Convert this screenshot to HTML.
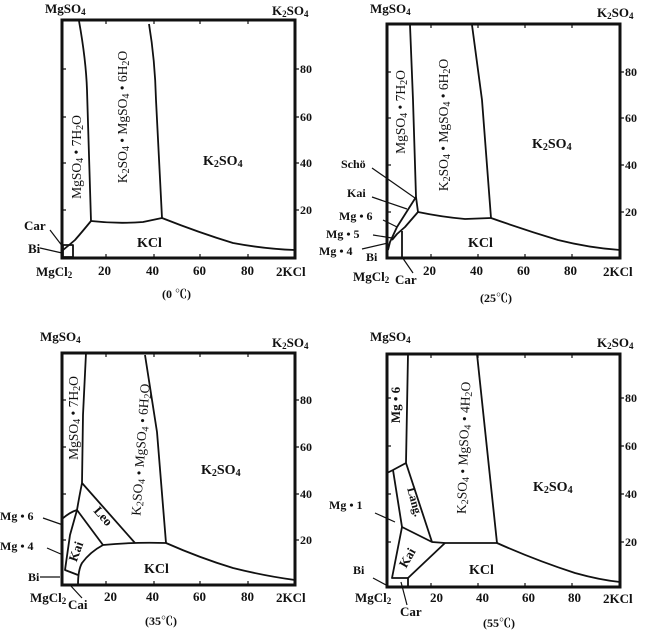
<!DOCTYPE html>
<html><head><meta charset="utf-8"><style>
html,body{margin:0;padding:0;background:#fff;}
svg{display:block;}
text{font-family:"Liberation Serif","Noto Serif CJK SC",serif;fill:#111;font-weight:bold;}
.f{fill:none;stroke:#111;stroke-width:3;}
.l{fill:none;stroke:#111;stroke-width:1.8;stroke-linejoin:round;}
.t{fill:none;stroke:#111;stroke-width:1.2;}
.r{font-size:13.5px;font-weight:normal;}
</style></head><body>
<svg width="650" height="631" viewBox="0 0 650 631" xmlns="http://www.w3.org/2000/svg">
<!-- Panel 1 -->
<rect class="f" x="62" y="20" width="233" height="238"/>
<path class="t" d="M62,210h4M62,163h4M62,117h4M62,69h4M106,20v4M154,20v4M200,20v4M248,20v4M106,258v-4M154,258v-4M200,258v-4M248,258v-4M295,210h4M295,163h4M295,117h4M295,69h4"/>
<path class="l" d="M79,21 Q86,60 87,90 L91,221"/>
<path class="l" d="M91,221 Q82,232 75,240 Q68,246 63,250"/>
<path class="l" d="M149,24 Q155,60 156,100 L162,218"/>
<path class="l" d="M91,221 Q117,224 143,222 L162,218"/>
<path class="l" d="M162,218 Q200,233 233,243 Q265,249 295,250"/>
<rect class="l" x="63" y="245" width="10" height="12"/>
<path class="t" d="M50,230L63,247M40,248L62,253"/>
<text x="45" y="13" font-size="13">MgSO<tspan font-size="9" dy="2">4</tspan></text>
<text x="272" y="15" font-size="13">K<tspan font-size="9" dy="2">2</tspan><tspan dy="-2">SO</tspan><tspan font-size="9" dy="2">4</tspan></text>
<g font-size="12"><text x="300" y="73">80</text><text x="300" y="121">60</text><text x="300" y="167">40</text><text x="300" y="214">20</text></g>
<g font-size="13"><text x="36" y="276">MgCl<tspan font-size="9" dy="2">2</tspan></text><text x="98" y="275">20</text><text x="146" y="275">40</text><text x="193" y="275">60</text><text x="241" y="275">80</text><text x="276" y="276">2KCl</text></g>
<text x="162" y="298" font-size="12" font-weight="normal">(0 ℃)</text>
<text x="24" y="230" font-size="13">Car</text><text x="28" y="253" font-size="13">Bi</text>
<text x="137" y="247" font-size="14" font-weight="normal">KCl</text>
<text x="203" y="165" font-size="14">K<tspan font-size="10" dy="2">2</tspan><tspan dy="-2">SO</tspan><tspan font-size="10" dy="2">4</tspan></text>
<text class="r" transform="translate(81,157) rotate(-90)" text-anchor="middle">MgSO<tspan font-size="10" dy="2">4</tspan><tspan dy="-2"> • 7H</tspan><tspan font-size="10" dy="2">2</tspan><tspan dy="-2">O</tspan></text>
<text class="r" transform="translate(127,117) rotate(-90)" text-anchor="middle">K<tspan font-size="10" dy="2">2</tspan><tspan dy="-2">SO</tspan><tspan font-size="10" dy="2">4</tspan><tspan dy="-2"> • MgSO</tspan><tspan font-size="10" dy="2">4</tspan><tspan dy="-2"> • 6H</tspan><tspan font-size="10" dy="2">2</tspan><tspan dy="-2">O</tspan></text>

<!-- Panel 2 -->
<rect class="f" x="387" y="24" width="233" height="234"/>
<path class="t" d="M387,212h4M387,165h4M387,118h4M387,72h4M431,24v4M478,24v4M525,24v4M572,24v4M431,258v-4M478,258v-4M525,258v-4M572,258v-4M620,212h4M620,165h4M620,118h4M620,72h4"/>
<path class="l" d="M410,25 L413,100 L416,197 L418,212"/>
<path class="l" d="M472,25 L482,100 L491,218"/>
<path class="l" d="M418,212 Q442,217 465,219 L491,218"/>
<path class="l" d="M491,218 Q525,230 558,240 Q590,248 620,250"/>
<path class="l" d="M416,197 L397,227 L390,242 L388,250"/>
<path class="l" d="M418,212 L405,227 L397,234 L392,240"/>
<path class="l" d="M402,231 V258"/>
<path class="t" d="M372,168L415,198M372,197L407,209M383,220L397,227M373,235L392,238M362,249L388,243M402,257L413,273"/>
<text x="370" y="13" font-size="13">MgSO<tspan font-size="9" dy="2">4</tspan></text>
<text x="597" y="17" font-size="13">K<tspan font-size="9" dy="2">2</tspan><tspan dy="-2">SO</tspan><tspan font-size="9" dy="2">4</tspan></text>
<g font-size="12"><text x="625" y="76">80</text><text x="625" y="122">60</text><text x="625" y="169">40</text><text x="625" y="216">20</text></g>
<g font-size="13" font-weight="normal"><text x="353" y="281">MgCl<tspan font-size="9" dy="2">2</tspan></text><text x="395" y="284">Car</text><text x="423" y="275">20</text><text x="470" y="275">40</text><text x="517" y="275">60</text><text x="564" y="275">80</text><text x="603" y="276" font-weight="bold">2KCl</text></g>
<text x="480" y="302" font-size="12" font-weight="normal">(25℃)</text>
<g font-size="12" font-weight="normal"><text x="341" y="168">Schö</text><text x="347" y="197">Kai</text><text x="339" y="220">Mg • 6</text><text x="326" y="238">Mg • 5</text><text x="319" y="255">Mg • 4</text><text x="366" y="261">Bi</text></g>
<text x="468" y="247" font-size="14" font-weight="normal">KCl</text>
<text x="532" y="148" font-size="14">K<tspan font-size="10" dy="2">2</tspan><tspan dy="-2">SO</tspan><tspan font-size="10" dy="2">4</tspan></text>
<text class="r" transform="translate(405,112) rotate(-90)" text-anchor="middle">MgSO<tspan font-size="10" dy="2">4</tspan><tspan dy="-2"> • 7H</tspan><tspan font-size="10" dy="2">2</tspan><tspan dy="-2">O</tspan></text>
<text class="r" transform="translate(448,125) rotate(-90)" text-anchor="middle">K<tspan font-size="10" dy="2">2</tspan><tspan dy="-2">SO</tspan><tspan font-size="10" dy="2">4</tspan><tspan dy="-2"> • MgSO</tspan><tspan font-size="10" dy="2">4</tspan><tspan dy="-2"> • 6H</tspan><tspan font-size="10" dy="2">2</tspan><tspan dy="-2">O</tspan></text>

<!-- Panel 3 -->
<rect class="f" x="62" y="353" width="233" height="232"/>
<path class="t" d="M62,540h4M62,494h4M62,447h4M62,400h4M106,353v4M154,353v4M200,353v4M248,353v4M106,585v-4M154,585v-4M200,585v-4M248,585v-4M295,540h4M295,494h4M295,447h4M295,400h4"/>
<path class="l" d="M86,353 L83,415 L82,483 Q79,498 77,510"/>
<path class="l" d="M77,510 Q70,512 62,519"/>
<path class="l" d="M82,483 L135,543"/>
<path class="l" d="M77,510 L103,545"/>
<path class="l" d="M77,510 L70,535 L65,570 L78,575"/>
<path class="l" d="M103,545 Q90,552 82,563 Q78,570 78,585"/>
<path class="l" d="M103,545 Q133,542 166,543"/>
<path class="l" d="M145,355 L157,432 L166,543"/>
<path class="l" d="M166,543 Q200,558 233,568 Q265,576 295,580"/>
<path class="t" d="M43,518L63,525M47,548L63,555M40,577L60,577M70,585L82,598"/>
<text x="40" y="341" font-size="13">MgSO<tspan font-size="9" dy="2">4</tspan></text>
<text x="272" y="347" font-size="13">K<tspan font-size="9" dy="2">2</tspan><tspan dy="-2">SO</tspan><tspan font-size="9" dy="2">4</tspan></text>
<g font-size="12"><text x="300" y="404">80</text><text x="300" y="451">60</text><text x="300" y="498">40</text><text x="300" y="544">20</text></g>
<g font-size="13"><text x="30" y="602">MgCl<tspan font-size="9" dy="2">2</tspan></text><text x="68" y="609">Cai</text><text x="104" y="601">20</text><text x="146" y="601">40</text><text x="193" y="601">60</text><text x="241" y="601">80</text><text x="276" y="602">2KCl</text></g>
<text x="145" y="625" font-size="12" font-weight="normal">(35℃)</text>
<g font-size="12"><text x="0" y="520">Mg • 6</text><text x="0" y="550">Mg • 4</text><text x="28" y="581">Bi</text></g>
<text x="144" y="573" font-size="14" font-weight="normal">KCl</text>
<text x="201" y="474" font-size="14">K<tspan font-size="10" dy="2">2</tspan><tspan dy="-2">SO</tspan><tspan font-size="10" dy="2">4</tspan></text>
<text class="r" transform="translate(78,418) rotate(-90)" text-anchor="middle">MgSO<tspan font-size="10" dy="2">4</tspan><tspan dy="-2"> • 7H</tspan><tspan font-size="10" dy="2">2</tspan><tspan dy="-2">O</tspan></text>
<text class="r" transform="translate(145,450) rotate(-86)" text-anchor="middle">K<tspan font-size="10" dy="2">2</tspan><tspan dy="-2">SO</tspan><tspan font-size="10" dy="2">4</tspan><tspan dy="-2"> • MgSO</tspan><tspan font-size="10" dy="2">4</tspan><tspan dy="-2"> • 6H</tspan><tspan font-size="10" dy="2">2</tspan><tspan dy="-2">O</tspan></text>
<text transform="translate(100,519) rotate(48)" text-anchor="middle" font-size="13" font-weight="normal">Leo</text>
<text transform="translate(80,553) rotate(-70)" text-anchor="middle" font-size="13" font-weight="normal">Kai</text>

<!-- Panel 4 -->
<rect class="f" x="387" y="354" width="233" height="233"/>
<path class="t" d="M387,542h4M387,494h4M387,446h4M387,398h4M431,354v4M478,354v4M525,354v4M572,354v4M431,587v-4M478,587v-4M525,587v-4M572,587v-4M620,542h4M620,494h4M620,446h4M620,398h4"/>
<path class="l" d="M408,354 L406,463 L393,470 L387,473"/>
<path class="l" d="M393,470 L402,527 L392,578 L408,578 L408,587"/>
<path class="l" d="M406,463 L432,542"/>
<path class="l" d="M402,527 L432,542 L445,543 L497,543"/>
<path class="l" d="M445,543 L408,578"/>
<path class="l" d="M477,354 L497,543"/>
<path class="l" d="M497,543 Q535,560 575,573 Q600,580 620,582"/>
<path class="t" d="M375,513L395,522M373,578L388,586M401,582L407,605"/>
<text x="370" y="341" font-size="13">MgSO<tspan font-size="9" dy="2">4</tspan></text>
<text x="597" y="347" font-size="13">K<tspan font-size="9" dy="2">2</tspan><tspan dy="-2">SO</tspan><tspan font-size="9" dy="2">4</tspan></text>
<g font-size="12"><text x="625" y="402">80</text><text x="625" y="450">60</text><text x="625" y="498">40</text><text x="625" y="546">20</text></g>
<g font-size="13" font-weight="normal"><text x="355" y="602">MgCl<tspan font-size="9" dy="2">2</tspan></text><text x="400" y="616">Car</text><text x="430" y="602">20</text><text x="476" y="602">40</text><text x="522" y="602">60</text><text x="568" y="602">80</text><text x="603" y="603" font-weight="bold">2KCl</text></g>
<text x="483" y="627" font-size="12" font-weight="normal">(55℃)</text>
<g font-size="12" font-weight="normal"><text x="329" y="509">Mg • 1</text><text x="353" y="574">Bi</text></g>
<text x="469" y="574" font-size="14" font-weight="normal">KCl</text>
<text x="533" y="491" font-size="14">K<tspan font-size="10" dy="2">2</tspan><tspan dy="-2">SO</tspan><tspan font-size="10" dy="2">4</tspan></text>
<text transform="translate(400,405) rotate(-90)" text-anchor="middle" font-size="13" font-weight="normal">Mg • 6</text>
<text transform="translate(411,503) rotate(75)" text-anchor="middle" font-size="12" font-weight="normal">Lang.</text>
<text transform="translate(411,560) rotate(-60)" text-anchor="middle" font-size="13" font-weight="normal">Kai</text>
<text class="r" transform="translate(468,448) rotate(-88)" text-anchor="middle">K<tspan font-size="10" dy="2">2</tspan><tspan dy="-2">SO</tspan><tspan font-size="10" dy="2">4</tspan><tspan dy="-2"> • MgSO</tspan><tspan font-size="10" dy="2">4</tspan><tspan dy="-2"> • 4H</tspan><tspan font-size="10" dy="2">2</tspan><tspan dy="-2">O</tspan></text>
</svg>
</body></html>
